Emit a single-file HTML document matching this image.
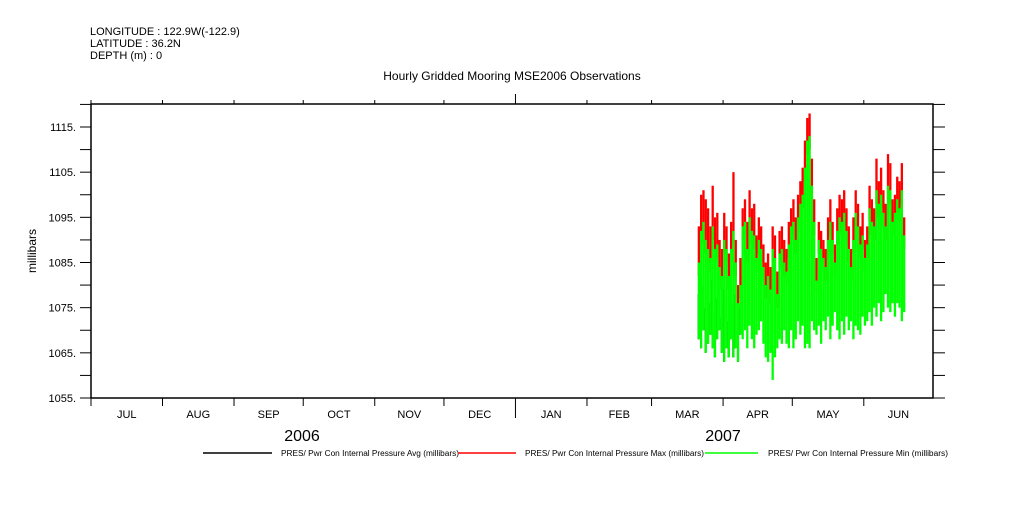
<!DOCTYPE html>
<html><head><meta charset="utf-8"><style>
body{margin:0;background:#fff;}
svg text{font-family:"Liberation Sans",sans-serif;}
</style></head><body>
<svg id="chart" width="1009" height="504" xmlns="http://www.w3.org/2000/svg">
<text x="90" y="35" font-size="11">LONGITUDE : 122.9W(-122.9)</text>
<text x="90" y="47" font-size="11">LATITUDE : 36.2N</text>
<text x="90" y="59" font-size="11">DEPTH (m) : 0</text>
<text x="512" y="80" font-size="12" text-anchor="middle">Hourly Gridded Mooring MSE2006 Observations</text>
<text transform="translate(36,251) rotate(-90)" font-size="12" text-anchor="middle">millibars</text>
<g id="axes"></g>
<g id="marks"></g>
<g id="legend">
 <line x1="203" y1="453" x2="272" y2="453" stroke="#000" stroke-width="1.5"/>
 <text x="281" y="456" font-size="8" textLength="178" lengthAdjust="spacingAndGlyphs">PRES/ Pwr Con Internal Pressure Avg (millibars)</text>
 <line x1="458" y1="453" x2="516" y2="453" stroke="#f00" stroke-width="1.5"/>
 <text x="525" y="456" font-size="8" textLength="179" lengthAdjust="spacingAndGlyphs">PRES/ Pwr Con Internal Pressure Max (millibars)</text>
 <line x1="705" y1="453" x2="758" y2="453" stroke="#0f0" stroke-width="1.5"/>
 <text x="768" y="456" font-size="8" textLength="180" lengthAdjust="spacingAndGlyphs">PRES/ Pwr Con Internal Pressure Min (millibars)</text>
</g>
</svg>
<script>
const months=["JUL","AUG","SEP","OCT","NOV","DEC","JAN","FEB","MAR","APR","MAY","JUN"];
const monthDays=[31,31,30,31,30,31,31,28,31,30,31,30];
const yTicks=[1055,1065,1075,1085,1095,1105,1115];
const years=["2006","2007"];
const startDay=263;
const maxHi=[1093,1100,1101,1099,1097,1093,1102,1095,1096,1090,
1088,1096,1093,1087,1094,1105,1090,1080,1086,
1097,1099,1094,1101,1097,1098,1091,1095,1093,1089,
1085,1087,1084,1093,1091,1083,1092,1093,1090,
1088,1094,1097,1099,1095,1100,1103,1106,1112,1117,1118,1108,1099,
1086,1094,1092,1090,1088,1095,1099,1094,1089,1097,
1100,1099,1101,1097,1093,1088,1095,1101,1098,1093,1096,1090,
1093,1102,1099,1097,1108,1103,1106,1101,1098,1109,1107,1099,1100,1104,1103,1107,1095];
const minHi=[1085,1092,1094,1090,1088,1086,1093,1088,1089,1084,
1082,1090,1088,1082,1088,1092,1085,1076,1080,
1093,1094,1088,1095,1092,1091,1086,1090,1088,1084,
1080,1082,1079,1088,1086,1078,1087,1088,1085,
1083,1089,1093,1094,1090,1095,1098,1100,1106,1112,1113,1102,1094,
1081,1090,1088,1086,1084,1090,1094,1090,1085,1092,
1095,1094,1096,1092,1088,1084,1090,1096,1093,1089,1091,1086,
1089,1097,1094,1093,1101,1098,1100,1096,1093,1102,1101,1094,1096,1099,1097,1101,1091];
const minLo=[1068,1066,1070,1065,1067,1069,1066,1064,1068,1070,
1065,1063,1066,1064,1068,1064,1066,1063,1069,
1068,1070,1066,1071,1068,1066,1069,1070,1072,1067,
1064,1063,1065,1059,1064,1066,1068,1067,1070,
1067,1066,1070,1066,1068,1072,1069,1071,1066,1067,1066,1072,1070,
1069,1071,1067,1072,1070,1073,1068,1071,1074,1070,
1068,1072,1069,1073,1070,1072,1068,1071,1070,1069,1073,1071,
1072,1074,1071,1075,1073,1076,1072,1074,1078,1075,1074,1076,1073,1076,1075,1072,1074];
const avg=[1078,1082,1080,1075,1079,1076,1081,1074,1077,1080,
1073,1079,1077,1072,1080,1076,1078,1070,1075];
const X0=91,X1=933,Y0=398,Y1=104;
function xs(d){return X0+(X1-X0)*d/365;}
function ys(v){return 127+(1115-v)*(398-127)/60;}
const NS="http://www.w3.org/2000/svg";
function mk(p,tag,at){const e=document.createElementNS(NS,tag);for(const k in at)e.setAttribute(k,at[k]);p.appendChild(e);return e;}
const ax=document.getElementById('axes');
let fr=mk(ax,'rect',{x:X0,y:Y1,width:X1-X0,height:Y0-Y1,fill:'none',stroke:'#000','stroke-width':1.5});


for(let v=1055;v<=1120;v+=5){
 const y=ys(v); if(y<Y1)continue;
 let t=mk(ax,'line',{x1:80,y1:y,x2:X0,y2:y,stroke:'#000','stroke-width':1});
 
 
 let r=mk(ax,'line',{x1:X1,y1:y,x2:945,y2:y,stroke:'#000','stroke-width':1});
 
 
}
yTicks.forEach(v=>{
 let t=mk(ax,'text',{x:76,y:ys(v)+4,'font-size':11,'text-anchor':'end'});
 t.textContent=v+'.';
 
 
});
let d=0;
months.forEach((m,i)=>{
 const xa=xs(d),xb=xs(d+monthDays[i]);
 const jan=(m==="JAN");
 let t=mk(ax,'line',{x1:xa,y1:Y0,x2:xa,y2:jan?418:406,stroke:'#000','stroke-width':1});
 
 
 let tt=mk(ax,'line',{x1:xa,y1:jan?94:100,x2:xa,y2:Y1,stroke:'#000','stroke-width':1});
 
 
 let l=mk(ax,'text',{x:(xa+xb)/2,y:418,'font-size':11,'text-anchor':'middle'});
 l.textContent=m;
 
 
 d+=monthDays[i];
});
[[302,years[0]],[723,years[1]]].forEach(p=>{
 let t=mk(ax,'text',{x:p[0],y:441,'font-size':16,'text-anchor':'middle'});
 t.textContent=p[1];
 
 
});
const mg=document.getElementById('marks');
const w=(X1-X0)/365;
avg.forEach((v,i)=>{
 const x=xs(startDay+i);
 let b=mk(mg,'rect',{x:x,y:ys(v),width:w*0.6,height:ys(minLo[i])-ys(v),fill:'#000'});
 
 
});
maxHi.forEach((v,i)=>{
 const x=xs(startDay+i);
 let b=mk(mg,'rect',{x:x,y:ys(v),width:w,height:ys(minHi[i]-3)-ys(v),fill:'#f00'});
 
 
});
minHi.forEach((v,i)=>{
 const x=xs(startDay+i);
 let b=mk(mg,'rect',{x:x,y:ys(v),width:w,height:ys(minLo[i])-ys(v),fill:'#0f0'});
 
 
});
</script>
</body></html>
